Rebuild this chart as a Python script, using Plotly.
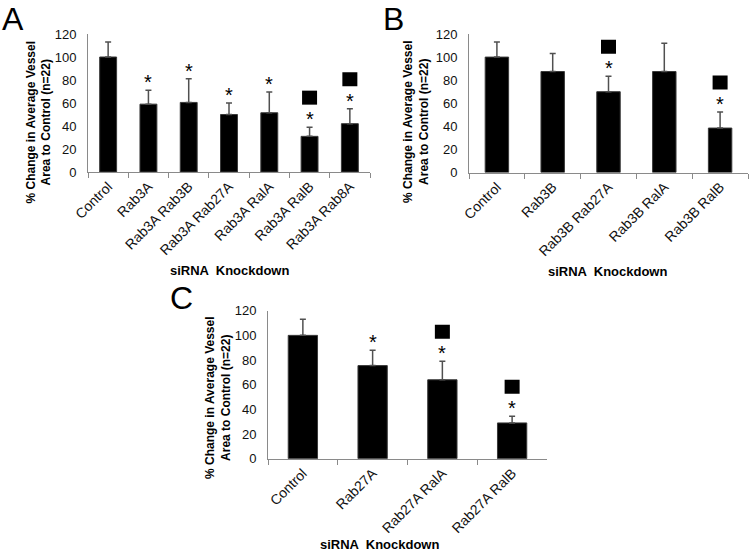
import plotly.graph_objects as go

# ---- data ----
A_cats = ["Control", "Rab3A", "Rab3A Rab3B", "Rab3A Rab27A", "Rab3A RalA", "Rab3A RalB", "Rab3A Rab8A"]
A_vals = [100, 59, 60.5, 50, 51.5, 31, 42]
A_err = [13, 12, 20.5, 10, 18, 8, 13]
A_star = [0, 1, 1, 1, 1, 1, 1]
A_square = [0, 0, 0, 0, 0, 1, 1]

B_cats = ["Control", "Rab3B", "Rab3B Rab27A", "Rab3B RalA", "Rab3B RalB"]
B_vals = [100, 87.5, 70, 87.5, 38.5]
B_err = [13, 15.5, 13.5, 24.5, 14]
B_star = [0, 0, 1, 0, 1]
B_square = [0, 0, 1, 0, 1]

C_cats = ["Control", "Rab27A", "Rab27A RalA", "Rab27A RalB"]
C_vals = [100, 75.5, 64, 29]
C_err = [13, 12.5, 15, 5.5]
C_star = [0, 1, 1, 1]
C_square = [0, 0, 1, 1]

y_ticks = [0, 20, 40, 60, 80, 100, 120]
y_title = "% Change in Average Vessel<br>Area to Control (n=22)"
x_title = "siRNA  Knockdown"
panel_letters = ["A", "B", "C"]

FONT = "Liberation Sans, Arial, sans-serif"
W, H = 750, 554

panels = [
    dict(cats=A_cats, vals=A_vals, err=A_err, star=A_star, sq=A_square,
         xdom=(88, 370), ydom=(34, 172), ytitle=(38, 122.5), xtitle=(229, 270), letter=(13, None)),
    dict(cats=B_cats, vals=B_vals, err=B_err, star=B_star, sq=B_square,
         xdom=(469, 748), ydom=(34, 172.5), ytitle=(416, 122), xtitle=(607, 271), letter=(393, None)),
    dict(cats=C_cats, vals=C_vals, err=C_err, star=C_star, sq=C_square,
         xdom=(268, 547), ydom=(310.7, 458.7), ytitle=(218, 398), xtitle=(379, None), letter=(181, 298)),
]

fig = go.Figure()
annotations = []
shapes = []
layout = {}

for i, p in enumerate(panels):
    k = "" if i == 0 else str(i + 1)
    xa, ya = "x" + k, "y" + k
    fig.add_trace(go.Bar(
        x=p["cats"], y=p["vals"], xaxis=xa, yaxis=ya,
        marker=dict(color="black", line=dict(color="#3a3a3a", width=1)),
        error_y=dict(type="data", symmetric=False, array=p["err"],
                     arrayminus=[0] * len(p["err"]), color="#505050",
                     thickness=1.5, width=3),
        showlegend=False, hoverinfo="x+y",
    ))
    layout["xaxis" + k] = dict(
        domain=[p["xdom"][0] / W, p["xdom"][1] / W], anchor=ya, automargin=False,
        type="category", showline=True, linecolor="#8a8a8a", linewidth=1,
        ticks="outside", tickson="boundaries", ticklen=5, tickcolor="#8a8a8a",
        tickangle=-45, tickfont=dict(family=FONT, size=14, color="#111"),
        showgrid=False, zeroline=False, fixedrange=True,
    )
    layout["yaxis" + k] = dict(
        domain=[1 - p["ydom"][1] / H, 1 - p["ydom"][0] / H], anchor=xa, automargin=False,
        range=[0, 120], tickvals=y_ticks, showline=True, linecolor="#8a8a8a",
        linewidth=1, ticks="", ticklabelstandoff=8,
        tickfont=dict(family=FONT, size=13, color="#111"),
        showgrid=False, zeroline=False, fixedrange=True,
    )
    # significance markers
    for c, v, e, s, q in zip(p["cats"], p["vals"], p["err"], p["star"], p["sq"]):
        top = v + e
        if s:
            annotations.append(dict(
                x=c, y=top, xref=xa, yref=ya, text="*", showarrow=False,
                yanchor="middle", yshift=8,
                font=dict(family=FONT, size=20, color="black"),
            ))
        if q:
            shapes.append(dict(
                type="rect", xref=xa, yref=ya, xsizemode="pixel", ysizemode="pixel",
                xanchor=c, yanchor=top, x0=-7.5, x1=7.5, y0=22.5, y1=36.5,
                fillcolor="black", line=dict(width=0),
            ))
    # titles
    annotations.append(dict(
        x=p["ytitle"][0] / W, y=1 - p["ytitle"][1] / H, xref="paper", yref="paper",
        text="<b>" + y_title + "</b>", textangle=-90, showarrow=False,
        xanchor="center", yanchor="middle",
        font=dict(family=FONT, size=12, color="black"),
    ))
    if p["xtitle"][1] is None:
        annotations.append(dict(
            x=p["xtitle"][0] / W, y=0, xref="paper", yref="paper",
            text="<b>" + x_title + "</b>", showarrow=False,
            xanchor="center", yanchor="bottom",
            font=dict(family=FONT, size=13, color="black"),
        ))
    else:
        annotations.append(dict(
            x=p["xtitle"][0] / W, y=1 - p["xtitle"][1] / H, xref="paper", yref="paper",
            text="<b>" + x_title + "</b>", showarrow=False,
            xanchor="center", yanchor="middle",
            font=dict(family=FONT, size=13, color="black"),
        ))
    if p["letter"][1] is None:
        annotations.append(dict(
            x=p["letter"][0] / W, y=1, xref="paper", yref="paper",
            text=panel_letters[i], showarrow=False, xanchor="center", yanchor="top",
            borderpad=0, font=dict(family=FONT, size=32, color="black"),
        ))
    else:
        annotations.append(dict(
            x=p["letter"][0] / W, y=1 - p["letter"][1] / H, xref="paper", yref="paper",
            text=panel_letters[i], showarrow=False, xanchor="center", yanchor="middle",
            font=dict(family=FONT, size=32, color="black"),
        ))

fig.update_layout(
    width=W, height=H, margin=dict(l=0, r=0, t=0, b=0, autoexpand=False),
    paper_bgcolor="white", plot_bgcolor="white",
    bargap=0.58, annotations=annotations, shapes=shapes, **layout,
)

fig.write_html("out.html", config={"displayModeBar": False},
               post_script="document.body.style.margin='0';document.body.style.overflow='hidden';")
